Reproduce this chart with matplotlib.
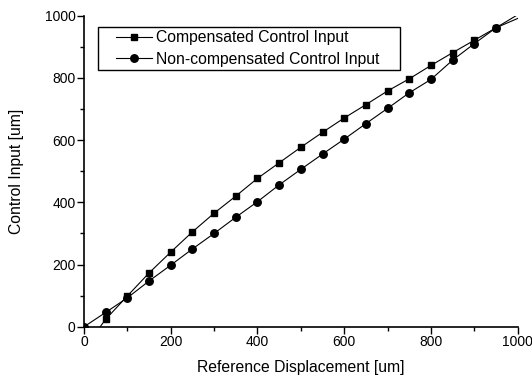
import numpy as np
import matplotlib.pyplot as plt
from matplotlib.patches import Rectangle

plt.rcParams['font.family'] = ['Liberation Sans', 'DejaVu Sans']

# reference displacement [um]
ref = [0, 50, 100, 150, 200, 250, 300, 350, 400, 450, 500,
       550, 600, 650, 700, 750, 800, 850, 900, 950, 1000]

# control input with hysteresis compensation
comp = [-70, 24, 99, 173, 240, 305, 365, 420, 477, 527, 577,
        625, 671, 714, 758, 797, 840, 881, 921, 961, 1003]

# control input without compensation
noncomp = [0, 46, 93, 147, 198, 250, 300, 352, 402, 456, 506,
           555, 603, 653, 702, 752, 795, 857, 910, 961, 991]

fig = plt.figure(figsize=(5.32, 3.78), dpi=100)
ax = fig.add_axes([0.158, 0.1357, 0.815, 0.8228])

ax.plot(ref[:-1], comp[:-1], color='black', lw=0.8, marker='s', ms=5.0,
        label='Compensated Control Input')
ax.plot(ref[-2:], comp[-2:], color='black', lw=0.8)
ax.plot(ref[:-1], noncomp[:-1], color='black', lw=0.8, marker='o', ms=5.4,
        label='Non-compensated Control Input')
ax.plot(ref[-2:], noncomp[-2:], color='black', lw=0.8)

ax.set_xlim(0, 1000)
ax.set_ylim(0, 1000)
ax.set_xticks(np.arange(0, 1001, 200))
ax.set_yticks(np.arange(0, 1001, 200))
ax.set_xticks(np.arange(100, 1000, 200), minor=True)
ax.set_yticks(np.arange(100, 1000, 200), minor=True)
ax.tick_params(which='major', direction='out', length=5, width=1,
               labelsize=10, pad=1)
ax.tick_params(which='minor', direction='out', length=3, width=1)

for side in ('top', 'right'):
    ax.spines[side].set_visible(False)
for side in ('left', 'bottom'):
    ax.spines[side].set_linewidth(1.2)

ax.set_xlabel('Reference Displacement [um]', fontsize=11.3, labelpad=8)
ax.set_ylabel('Control Input [um]', fontsize=11.3, labelpad=15)

# legend box drawn separately so the entries can sit with a wide left margin
ax.add_patch(Rectangle((0.032, 0.825), 0.697, 0.139, transform=ax.transAxes,
                       facecolor='white', edgecolor='black', lw=1.0, zorder=4))
leg = ax.legend(loc='upper left', bbox_to_anchor=(0.074, 0.953),
                fontsize=11.3, frameon=False, borderpad=0, labelspacing=0.42,
                handlelength=2.3, handletextpad=0.25, borderaxespad=0)
leg.set_zorder(5)

fig.savefig('out.png', dpi=100)
